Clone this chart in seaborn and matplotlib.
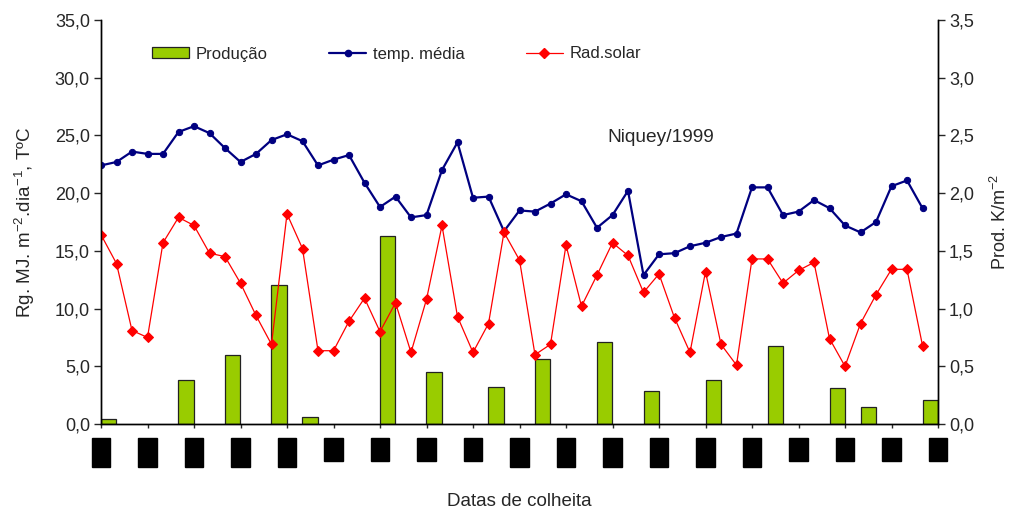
import matplotlib
matplotlib.use("Agg")
import matplotlib.pyplot as plt
import seaborn as sns
import numpy as np
from matplotlib.lines import Line2D
from matplotlib.patches import Patch

# harvest index (categories), 54 dates
n_dates = 54
dates = list(range(n_dates))

temp_media = [22.4, 22.7, 23.6, 23.4, 23.4, 25.3, 25.8, 25.2, 23.9, 22.7,
              23.4, 24.6, 25.1, 24.5, 22.4, 22.9, 23.3, 20.9, 18.8, 19.7,
              17.9, 18.1, 22.0, 24.4, 19.6, 19.7, 16.7, 18.5, 18.4, 19.1,
              19.9, 19.3, 17.0, 18.1, 20.2, 12.9, 14.7, 14.8, 15.4, 15.7,
              16.2, 16.5, 20.5, 20.5, 18.1, 18.4, 19.4, 18.7, 17.2, 16.6,
              17.5, 20.6, 21.1, 18.7]

rad_solar = [16.4, 13.9, 8.1, 7.5, 15.7, 17.9, 17.2, 14.8, 14.5, 12.2,
             9.4, 6.9, 18.2, 15.2, 6.35, 6.35, 8.9, 10.9, 8.0, 10.5,
             6.2, 10.8, 17.2, 9.3, 6.2, 8.7, 16.6, 14.2, 6.0, 6.9,
             15.5, 10.2, 12.9, 15.7, 14.6, 11.4, 13.0, 9.2, 6.2, 13.2,
             6.9, 5.1, 14.3, 14.3, 12.2, 13.3, 14.0, 7.4, 5.0, 8.7,
             11.2, 13.4, 13.4, 6.8]

# production (right axis) only on some harvest dates
prod_pos = [0, 5, 8, 11, 13, 18, 21, 25, 28, 32, 35, 39, 43, 47, 49, 53]
prod_val = [0.04, 0.38, 0.60, 1.20, 0.06, 1.63, 0.45, 0.32, 0.56, 0.71,
            0.29, 0.38, 0.68, 0.31, 0.145, 0.205]

# date labels are redacted in the reference (drawn as blocks)
tick_pos = list(range(0, 55, 3))
tick_labels = ["███", "███", "███", "███", "███", "██", "██", "██", "██", "███",
               "███", "███", "███", "███", "███", "██", "██", "██", "██"]

sns.set_style("white")
plt.rcParams["font.family"] = ["Liberation Sans", "DejaVu Sans"]
plt.rcParams["mathtext.fontset"] = "custom"
plt.rcParams["mathtext.rm"] = "Liberation Sans"
plt.rcParams["mathtext.it"] = "Liberation Sans"

fig = plt.figure(figsize=(10.09, 5.11), dpi=100)
ax = fig.add_axes([101 / 1009, 1 - 424 / 511, 837 / 1009, 404 / 511])
ax2 = ax.twinx()

ax2.bar(prod_pos, prod_val, width=0.97, align="edge", color="#99CC00",
        edgecolor="#222222", linewidth=0.9)

sns.lineplot(x=dates, y=temp_media, ax=ax, color="#000080", linewidth=1.6,
             marker="o", markersize=4.5, markeredgecolor="#000080", legend=False)
sns.lineplot(x=dates, y=rad_solar, ax=ax, color="#FF0000", linewidth=0.9,
             marker="D", markersize=4.8, markeredgecolor="#FF0000", legend=False)

ax.set_zorder(ax2.get_zorder() + 1)
ax.patch.set_visible(False)

ax.set_xlim(0, 54)
ax.set_ylim(0, 35)
ax2.set_ylim(0, 3.5)

yt = np.arange(0, 35.1, 5)
ax.set_yticks(yt, labels=[f"{v:.1f}".replace(".", ",") for v in yt])
yt2 = np.arange(0, 3.51, 0.5)
ax2.set_yticks(yt2, labels=[f"{v:.1f}".replace(".", ",") for v in yt2])

ax.set_xticks(tick_pos, labels=tick_labels)
for t in ax.get_xticklabels():
    t.set_rotation(90)
    t.set_fontfamily("DejaVu Sans")
    t.set_fontsize(5.3)
    t.set_color("black")
    t.set_bbox(dict(boxstyle="square,pad=0.8", fc="black", ec="black"))

for a in (ax, ax2):
    a.spines["top"].set_visible(False)
    for s in a.spines.values():
        s.set_linewidth(1.0)
        s.set_color("black")
    a.grid(False)
ax.tick_params(axis="y", direction="out", length=5, width=1, labelsize=13, pad=3, left=True)
ax2.tick_params(axis="y", direction="out", length=5, width=1, labelsize=13, pad=3, right=True)
ax.tick_params(axis="x", direction="out", length=3, width=1, pad=11.3, bottom=True)

ax.set_ylabel("Rg. MJ. m$^{-2}$.dia$^{-1}$, TºC", fontsize=13.6, labelpad=13)
ax2.set_ylabel("Prod. K/m$^{-2}$", fontsize=13, labelpad=11)
ax.set_xlabel("Datas de colheita", fontsize=13.5)
ax.xaxis.set_label_coords(0.5, -0.17)

ax.text(0.669, 0.71, "Niquey/1999", transform=ax.transAxes, ha="center",
        va="center", fontsize=13.8)

handles = [
    Patch(facecolor="#99CC00", edgecolor="#222222", linewidth=0.9, label="Produção"),
    Line2D([0], [0], color="#000080", linewidth=1.6, marker="o", markersize=4.5,
           label="temp. média"),
    Line2D([0], [0], color="#FF0000", linewidth=0.9, marker="D", markersize=4.8,
           label="Rad.solar"),
]
fig.legend(handles=handles, loc="center", bbox_to_anchor=(0.393, 1 - 54 / 511),
           ncol=3, frameon=False, fontsize=12, columnspacing=3.7,
           handlelength=2.2, handletextpad=0.4)

fig.savefig("out.png", dpi=100)
